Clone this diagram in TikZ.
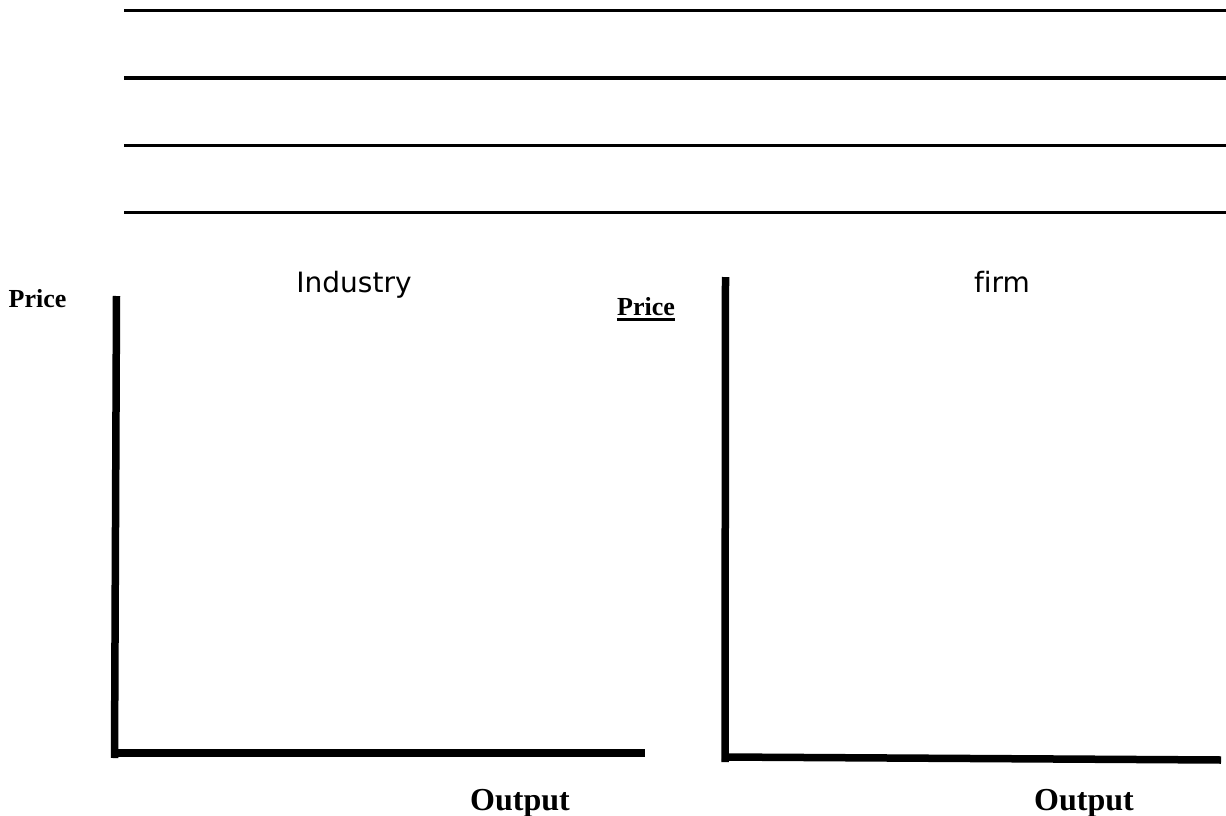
\documentclass[tikz,border=0pt]{standalone}
\usepackage{fontspec}
\setmainfont{Liberation Serif}
\newfontfamily\titlefont[Ligatures=NoCommon]{DejaVu Sans}
\tikzset{
  ruleline/.style={line width=3pt},
  axis/.style={line width=7.5pt, line cap=butt},
  axlabel/.style={font=\fontsize{26}{30}\selectfont\bfseries, inner sep=0pt, anchor=base},
  outlabel/.style={font=\fontsize{32}{36}\selectfont\bfseries, inner sep=0pt, anchor=base},
  titlelabel/.style={font=\titlefont\fontsize{28}{32}\selectfont, inner sep=0pt, anchor=base}
}
\begin{document}
\begin{tikzpicture}[x=1pt,y=-1pt]
\useasboundingbox (0,0) rectangle (1226,816);
% writing lines
\foreach \yy/\nm in {11/a,78/b,145/c,212/d}{
  \coordinate (r\nm s) at (124,\yy);
  \coordinate (r\nm e) at (1226,\yy);
  \draw[ruleline] (r\nm s) -- (r\nm e);
}
% industry axes
\coordinate (Ltop) at (116.5,296);
\coordinate (Lbot) at (114.5,758);
\coordinate (Lorg) at (111,753);
\coordinate (Lend) at (645,753);
\draw[axis] (Ltop) -- (Lbot);
\draw[axis] (Lorg) -- (Lend);
% firm axes
\coordinate (Rtop) at (725.5,277);
\coordinate (Rbot) at (725,762);
\coordinate (Rorg) at (722,757);
\coordinate (Rend) at (1221,760);
\draw[axis] (Rtop) -- (Rbot);
\draw[axis] (Rorg) -- (Rend);
% labels
\node[axlabel] (p1) at (37.5,307) {Price};
\node[axlabel] (p2) at (646,315) {Price};
\draw[line width=2.5pt] ([yshift=-4.5pt]p2.base west) -- ([yshift=-4.5pt]p2.base east);
\node[titlelabel] (t1) at (354,292) {Industry};
\node[titlelabel] (t2) at (1002,292) {f\kern0pt irm};
\node[outlabel] (o1) at (520,810) {Output};
\node[outlabel] (o2) at (1084,810) {Output};
\end{tikzpicture}
\end{document}
